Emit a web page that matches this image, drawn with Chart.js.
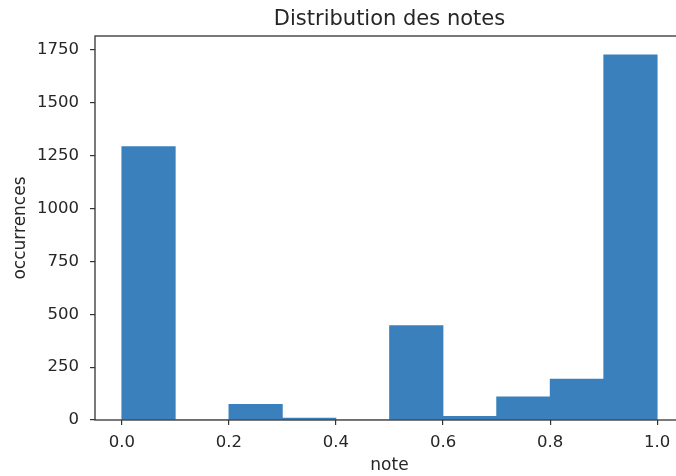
<!DOCTYPE html>
<html>
<head>
<meta charset="utf-8">
<script src="https://cdn.jsdelivr.net/npm/chart.js@4"></script>
<style>
  html, body { margin: 0; padding: 0; background: #fff; overflow: hidden; }
  #wrap { width: 779px; height: 476px; position: relative; }
</style>
</head>
<body>
<div id="wrap"><canvas id="histChart"></canvas></div>
<script>
// histogram bins (centres) and counts
const binCentres = [0.05, 0.15, 0.25, 0.35, 0.45, 0.55, 0.65, 0.75, 0.85, 0.95];
const counts = [1293, 0, 74, 9, 0, 446, 17, 109, 193, 1727];
const xTicks = [0.0, 0.2, 0.4, 0.6, 0.8, 1.0];
const yTicks = [0, 250, 500, 750, 1000, 1250, 1500, 1750];

const tickFont = { family: 'DejaVu Sans', size: 16.5 };
const axisColor = '#333';
const textColor = '#262626';

// matplotlib draws a box round the axes (right side falls off the picture)
const frame = {
    id: 'frame',
    afterDraw(chart) {
        const a = chart.chartArea;
        const ctx = chart.ctx;
        ctx.save();
        ctx.strokeStyle = axisColor;
        ctx.lineWidth = 1.3;
        ctx.strokeRect(a.left, a.top, a.right - a.left, a.bottom - a.top);
        ctx.restore();
    }
};

function createChart() {
    const ctx = document.getElementById('histChart').getContext('2d');
    new Chart(ctx, {
        type: 'bar',
        data: {
            datasets: [{
                data: binCentres.map((x, i) => ({ x: x, y: counts[i] })),
                backgroundColor: '#3a80bd',
                borderWidth: 0,
                barPercentage: 1.0,
                categoryPercentage: 1.0
            }]
        },
        options: {
            responsive: true,
            maintainAspectRatio: false,
            animation: false,
            layout: { padding: 0 },
            plugins: {
                legend: { display: false },
                tooltip: { enabled: false },
                title: {
                    display: true,
                    text: 'Distribution des notes',
                    color: textColor,
                    font: { family: 'DejaVu Sans', size: 21, weight: 'normal' },
                    padding: { top: 7, bottom: 3.8 }
                }
            },
            scales: {
                x: {
                    type: 'linear',
                    min: -0.05,
                    max: 1.05,
                    offset: false,
                    afterBuildTicks: s => { s.ticks = xTicks.map(v => ({ value: v })); },
                    afterFit: s => { s.height = 56; },
                    grid: { offset: false, drawOnChartArea: false, drawTicks: true, tickLength: 5, color: axisColor, lineWidth: 1.2 },
                    border: { display: false },
                    ticks: {
                        color: textColor,
                        font: tickFont,
                        padding: 8,
                        maxRotation: 0,
                        callback: v => Number(v).toFixed(1)
                    },
                    title: {
                        display: true,
                        text: 'note',
                        color: textColor,
                        font: { family: 'DejaVu Sans', size: 17 },
                        padding: { top: 0, bottom: 0 }
                    }
                },
                y: {
                    min: 0,
                    max: 1816,
                    afterBuildTicks: s => { s.ticks = yTicks.map(v => ({ value: v })); },
                    afterFit: s => { s.width = 95; },
                    grid: { drawOnChartArea: false, drawTicks: true, tickLength: 5, color: axisColor, lineWidth: 1.2 },
                    border: { display: false },
                    ticks: {
                        color: textColor,
                        font: tickFont,
                        padding: 11,
                        callback: v => String(v)
                    },
                    title: {
                        display: true,
                        text: 'occurrences',
                        color: textColor,
                        font: { family: 'DejaVu Sans', size: 17 },
                        padding: { top: 10, bottom: 0 }
                    }
                },
                // empty spacer on the right so the title centres over the axes
                yRight: {
                    position: 'right',
                    min: 0,
                    max: 1816,
                    afterFit: s => { s.width = 95; },
                    grid: { display: false },
                    border: { display: false },
                    ticks: { display: false }
                }
            }
        },
        plugins: [frame]
    });
}

window.onload = function () {
    createChart();
};
</script>
</body>
</html>
